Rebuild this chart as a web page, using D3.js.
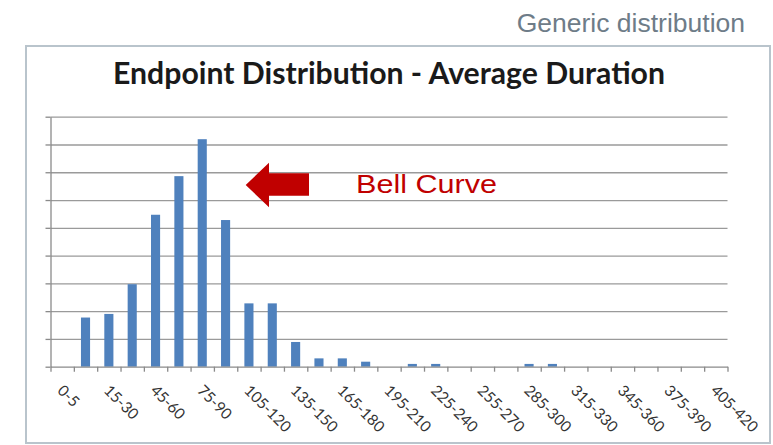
<!DOCTYPE html>
<html>
<head>
<meta charset="utf-8">
<script src="https://cdn.jsdelivr.net/npm/d3@7"></script>
<style>
  html, body { margin: 0; padding: 0; background: #ffffff; }
  svg { display: block; }
</style>
</head>
<body>
<svg id="chart" width="773" height="445"></svg>
<script>
// ---- data ----
const categories = ["0-5","5-15","15-30","30-45","45-60","60-75","75-90","90-105","105-120","120-135",
  "135-150","150-165","165-180","180-195","195-210","210-225","225-240","240-255","255-270","270-285",
  "285-300","300-315","315-330","330-345","345-360","360-375","375-390","390-405","405-420"];
const counts = [0, 17.7, 19, 29.7, 54.7, 68.6, 81.9, 52.8, 22.8, 22.8,
  8.9, 3, 3, 1.8, 0, 1, 1, 0, 0, 0,
  1, 1, 0, 0, 0, 0, 0, 0, 0];
const gridTicks = [0, 10, 20, 30, 40, 50, 60, 70, 80, 90];
const shownLabels = ["0-5","15-30","45-60","75-90","105-120","135-150","165-180","195-210",
  "225-240","255-270","285-300","315-330","345-360","375-390","405-420"];
const titleText = "Endpoint Distribution - Average Duration";
const cornerText = "Generic distribution";
const calloutText = "Bell Curve";

// ---- layout ----
const svg = d3.select("#chart");
const X0 = 50.5, X1 = 727.5, Y0 = 116.7, Y1 = 366.7;

// frame
svg.append("rect").attr("x", 26).attr("y", 46).attr("width", 744).attr("height", 397)
  .attr("fill", "#fff").attr("stroke", "#b9c4cc").attr("stroke-width", 2);

// corner text
svg.append("text").attr("x", 745).attr("y", 32).attr("text-anchor", "end")
  .attr("font-family", "Liberation Sans, Arial, sans-serif").attr("font-size", 26.5)
  .attr("fill", "#6e7c88").text(cornerText);

// title
const title = svg.append("text").attr("x", 389).attr("y", 84).attr("text-anchor", "middle")
  .attr("font-family", "Lato, 'Open Sans', sans-serif").attr("font-weight", "bold")
  .attr("font-size", 26).attr("fill", "#1a1a1a").text(titleText);
{
  const w = title.node().getComputedTextLength();
  title.attr("font-size", 26 * 552 / w);
}

// scales
const x = d3.scaleBand().domain(categories).range([X0, X1]).paddingInner(0.61).paddingOuter(0.305);
const xi = d3.scaleLinear().domain([0, categories.length]).range([X0, X1]);
const y = d3.scaleLinear().domain([0, 90]).range([Y1, Y0]);

// gridlines
svg.append("g").attr("transform", `translate(${X0},0)`)
  .call(d3.axisLeft(y).tickValues(gridTicks.slice(1)).tickSize(-(X1 - X0)).tickFormat(""))
  .call(g => g.select(".domain").remove())
  .call(g => g.selectAll(".tick line").attr("stroke", "#9a9a9a").attr("stroke-width", 1.3));

// bars
svg.append("g").selectAll("rect").data(categories.map((c, i) => ({c, v: counts[i]})))
  .join("rect")
  .attr("x", d => x(d.c)).attr("width", x.bandwidth())
  .attr("y", d => y(d.v)).attr("height", d => Y1 - y(d.v))
  .attr("fill", "#4f81bd");

// y axis
svg.append("g").attr("transform", `translate(${X0},0)`)
  .call(d3.axisLeft(y).tickValues(gridTicks).tickSize(5).tickFormat("").tickSizeOuter(0))
  .call(g => g.select(".domain").attr("stroke", "#8a8a8a").attr("stroke-width", 1.3))
  .call(g => g.selectAll(".tick line").attr("stroke", "#8a8a8a").attr("stroke-width", 1.3));

// x axis
svg.append("g").attr("transform", `translate(0,${Y1})`)
  .call(d3.axisBottom(xi).tickValues(d3.range(categories.length + 1)).tickSize(5).tickFormat("").tickSizeOuter(0))
  .call(g => g.select(".domain").attr("stroke", "#8a8a8a").attr("stroke-width", 1.3))
  .call(g => g.selectAll(".tick line").attr("stroke", "#8a8a8a").attr("stroke-width", 1.3));

// x labels
svg.append("g").selectAll("text").data(shownLabels).join("text")
  .attr("transform", d => `translate(${x(d) + x.bandwidth() / 2 - 2},${Y1 + 21}) rotate(45)`)
  .attr("font-family", "Lato, 'Open Sans', sans-serif").attr("font-size", 15.3)
  .attr("fill", "#333").attr("text-anchor", "start").attr("dy", "0.35em")
  .text(d => d);

// arrow callout
const arrow = d3.path();
arrow.moveTo(245.7, 185);
arrow.lineTo(269, 162.7);
arrow.lineTo(269, 173.3);
arrow.lineTo(309, 173.3);
arrow.lineTo(309, 195.7);
arrow.lineTo(269, 195.7);
arrow.lineTo(269, 207.3);
arrow.closePath();
svg.append("path").attr("d", arrow.toString()).attr("fill", "#c00000");

svg.append("text").attr("x", 356).attr("y", 192.7)
  .attr("font-family", "Liberation Sans, Arial, sans-serif").attr("font-size", 25)
  .attr("textLength", 141).attr("lengthAdjust", "spacingAndGlyphs")
  .attr("fill", "#c00000").text(calloutText);
</script>
</body>
</html>
